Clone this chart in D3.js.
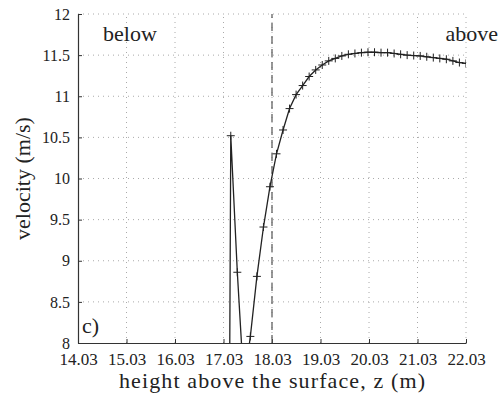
<!DOCTYPE html>
<html>
<head>
<meta charset="utf-8">
<script src="https://cdn.jsdelivr.net/npm/d3@7"></script>
<style>
  body { margin: 0; background: #fff; }
  svg text { font-family: "Liberation Serif", "Times New Roman", "DejaVu Serif", serif; fill: #222; }
</style>
</head>
<body>
<script>
// heights (m) of the sampled points and the velocity read at each one
const heights = [17.045, 17.18, 17.315, 17.45, 17.584, 17.719, 17.854, 17.988, 18.123, 18.258,
  18.392, 18.527, 18.662, 18.796, 18.931, 19.066, 19.2, 19.335, 19.47, 19.605,
  19.74, 19.874, 20.009, 20.144, 20.278, 20.413, 20.548, 20.682, 20.817, 20.952,
  21.086, 21.221, 21.356, 21.49, 21.625, 21.76, 21.894, 22.03];
const velocity = [-6, 10.52, 8.86, 7.5, 8.08, 8.81, 9.41, 9.90, 10.30, 10.59,
  10.85, 11.02, 11.13, 11.24, 11.32, 11.38, 11.43, 11.46, 11.49, 11.51,
  11.52, 11.53, 11.535, 11.535, 11.53, 11.53, 11.52, 11.51, 11.50, 11.495,
  11.49, 11.48, 11.47, 11.46, 11.45, 11.43, 11.41, 11.40];
const xTicks = [14.03, 15.03, 16.03, 17.03, 18.03, 19.03, 20.03, 21.03, 22.03];
const yTicks = [8, 8.5, 9, 9.5, 10, 10.5, 11, 11.5, 12];
const surface = 18.03;

const serif = '"Liberation Serif", "Times New Roman", "DejaVu Serif", serif';
const width = 502, height = 398;
const margin = {top: 14, left: 78, right: 36, bottom: 55};

const x = d3.scaleLinear().domain([14.03, 22.03]).range([margin.left, width - margin.right]);
const y = d3.scaleLinear().domain([8, 12]).range([height - margin.bottom, margin.top]);

const svg = d3.select("body").append("svg")
  .attr("width", width)
  .attr("height", height)
  .attr("font-family", serif);

svg.append("clipPath").attr("id", "plot")
  .append("rect")
  .attr("x", x.range()[0]).attr("y", y.range()[1])
  .attr("width", x.range()[1] - x.range()[0])
  .attr("height", y.range()[0] - y.range()[1]);

// dotted grid
const grid = svg.append("g")
  .attr("stroke", "#aaa")
  .attr("stroke-width", 1)
  .attr("stroke-dasharray", "1,4");
grid.selectAll(".gx").data(xTicks.slice(1)).enter().append("line")
  .attr("x1", d => x(d)).attr("x2", d => x(d))
  .attr("y1", y(8)).attr("y2", y(12));
grid.selectAll(".gy").data(yTicks.slice(1)).enter().append("line")
  .attr("x1", x(14.03)).attr("x2", x(22.03))
  .attr("y1", d => y(d)).attr("y2", d => y(d));

// axes, ticks point inwards
const xAxis = d3.axisBottom(x).tickValues(xTicks).tickFormat(d3.format(".2f"))
  .tickSizeInner(-4).tickSizeOuter(0).tickPadding(10);
const yAxis = d3.axisLeft(y).tickValues(yTicks).tickFormat(d => d)
  .tickSizeInner(-4).tickSizeOuter(0).tickPadding(8);

const gx = svg.append("g")
  .attr("transform", `translate(0, ${y(8)})`)
  .call(xAxis);
const gy = svg.append("g")
  .attr("transform", `translate(${x(14.03)}, 0)`)
  .call(yAxis);

[gx, gy].forEach(g => {
  g.attr("font-family", serif).attr("font-size", 16);
  g.select(".domain").attr("stroke", "#333").attr("stroke-width", 1.2);
  g.selectAll(".tick line").attr("stroke", "#333");
  g.selectAll(".tick text").attr("fill", "#333");
});
gx.attr("font-size", 17);

// surface marker
svg.append("line")
  .attr("x1", x(surface)).attr("x2", x(surface))
  .attr("y1", y(8)).attr("y2", y(12))
  .attr("stroke", "#555")
  .attr("stroke-width", 1.2)
  .attr("stroke-dasharray", "8,5");

const data = heights.map((h, i) => ({h: h, v: velocity[i]}));

const plot = svg.append("g").attr("clip-path", "url(#plot)");

plot.append("path")
  .datum(data)
  .attr("fill", "none")
  .attr("stroke", "#222")
  .attr("stroke-width", 1.3)
  .attr("d", d3.line().x(d => x(d.h)).y(d => y(d.v)));

plot.selectAll(".mark").data(data).enter().append("path")
  .attr("transform", d => `translate(${x(d.h)}, ${y(d.v)})`)
  .attr("d", "M-4,0H4M0,-4V4")
  .attr("stroke", "#222")
  .attr("stroke-width", 1);

// labels
svg.append("text")
  .attr("x", 103).attr("y", 41)
  .attr("font-size", 22)
  .text("below");
svg.append("text")
  .attr("x", 498).attr("y", 41)
  .attr("text-anchor", "end")
  .attr("font-size", 22)
  .text("above");
svg.append("text")
  .attr("x", 82).attr("y", 333)
  .attr("font-size", 22)
  .text("c)");

svg.append("text")
  .attr("x", (x(14.03) + x(22.03)) / 2).attr("y", 388)
  .attr("text-anchor", "middle")
  .attr("font-size", 22)
  .attr("textLength", 306)
  .attr("lengthAdjust", "spacing")
  .text("height above the surface, z (m)");

svg.append("text")
  .attr("transform", `translate(30, ${(y(8) + y(12)) / 2}) rotate(-90)`)
  .attr("text-anchor", "middle")
  .attr("font-size", 22)
  .text("velocity (m/s)");
</script>
</body>
</html>
